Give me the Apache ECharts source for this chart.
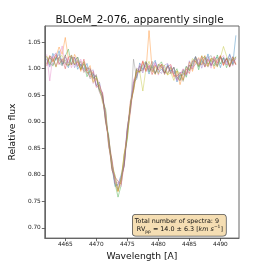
<!DOCTYPE html>
<html>
<head>
<meta charset="utf-8">
<script src="https://cdn.jsdelivr.net/npm/echarts@6/dist/echarts.min.js"></script>
<style>html,body{margin:0;padding:0;background:#fff}#c{width:266px;height:266px}</style>
</head>
<body>
<div id="c"></div>
<script>
var wavelength = [4462.0,4462.5,4463.0,4463.5,4464.0,4464.5,4465.0,4465.5,4466.0,4466.5,4467.0,4467.5,4468.0,4468.5,4469.0,4469.5,4470.0,4470.5,4471.0,4471.5,4472.0,4472.5,4473.0,4473.5,4474.0,4474.5,4475.0,4475.5,4476.0,4476.5,4477.0,4477.5,4478.0,4478.5,4479.0,4479.5,4480.0,4480.5,4481.0,4481.5,4482.0,4482.5,4483.0,4483.5,4484.0,4484.5,4485.0,4485.5,4486.0,4486.5,4487.0,4487.5,4488.0,4488.5,4489.0,4489.5,4490.0,4490.5,4491.0,4491.5,4492.0,4492.5];
var spec1 = [1.019,1.006,1.029,1.016,1.034,1.009,1.012,1.002,1.021,1.021,0.999,1.009,0.999,1.010,0.988,0.991,0.968,0.975,0.942,0.923,0.856,0.821,0.778,0.782,0.800,0.824,0.887,0.927,0.975,0.980,1.011,0.998,1.006,0.990,1.007,1.016,0.993,0.999,0.992,1.008,0.995,1.002,0.975,0.988,0.988,1.005,0.996,1.013,1.023,1.003,1.014,1.009,1.028,1.005,1.018,1.022,1.002,1.021,1.012,1.028,1.009,1.063];
var spec2 = [1.009,1.025,1.013,1.023,1.041,1.027,1.059,1.019,1.007,1.027,1.016,0.995,1.012,0.996,1.006,0.976,0.982,0.961,0.954,0.898,0.869,0.828,0.785,0.768,0.792,0.840,0.875,0.918,0.972,0.998,0.994,1.013,0.995,1.072,0.998,0.989,1.009,1.003,0.994,0.989,1.002,0.984,0.996,0.970,0.992,0.989,1.013,0.995,1.013,1.021,1.008,1.025,1.006,1.019,1.000,1.017,1.024,1.007,1.019,1.005,1.022,1.009];
var spec3 = [1.023,1.011,1.005,1.021,1.018,1.006,1.024,1.037,1.008,1.015,1.022,0.999,1.009,0.985,0.999,0.983,0.986,0.959,0.949,0.902,0.874,0.813,0.785,0.758,0.780,0.838,0.866,0.933,0.965,0.999,0.993,1.007,1.014,0.994,1.004,0.991,1.006,1.013,0.997,0.991,1.004,0.990,1.000,0.979,0.997,0.984,1.007,1.006,1.019,0.998,1.019,1.023,1.009,1.016,1.005,1.026,1.009,1.021,1.002,1.020,1.007,1.023];
var spec4 = [1.005,1.021,1.014,1.027,1.008,1.019,1.000,1.022,1.024,1.007,1.013,0.998,1.018,0.995,0.984,0.995,0.965,0.970,0.953,0.906,0.865,0.809,0.796,0.788,0.782,0.820,0.883,0.939,0.959,0.993,0.995,1.015,0.996,1.006,0.989,1.007,0.998,1.009,0.991,1.004,1.008,0.987,0.986,0.993,0.979,1.000,0.991,1.015,1.014,1.006,1.024,1.003,1.018,1.006,1.023,1.011,1.025,1.006,1.020,1.004,1.018,1.007];
var spec5 = [1.018,1.003,1.023,1.030,1.011,1.006,1.022,1.011,1.026,1.002,1.016,1.004,1.013,0.991,0.994,0.998,0.969,0.961,0.956,0.903,0.867,0.826,0.783,0.780,0.796,0.816,0.881,0.922,0.976,0.986,1.006,0.992,1.012,1.007,0.995,1.013,0.997,0.991,1.007,1.010,0.991,0.996,0.978,0.993,0.993,0.987,1.015,1.003,1.008,1.019,1.001,1.018,1.023,1.007,1.016,1.004,1.021,1.018,1.007,1.026,1.011,1.019];
var spec6 = [1.008,1.024,1.020,1.004,1.022,1.012,1.026,1.007,1.010,1.022,1.004,1.014,0.993,1.001,1.001,0.980,0.989,0.956,0.943,0.918,0.854,0.830,0.793,0.770,0.794,0.818,0.884,0.930,0.960,1.001,0.997,0.996,1.012,0.998,1.014,0.992,1.003,1.007,0.989,1.005,0.991,1.003,0.985,0.977,0.999,0.990,1.007,0.999,1.023,1.010,1.007,1.021,1.003,1.019,1.017,1.006,1.023,1.010,1.019,1.003,1.023,1.008];
var spec7 = [1.027,0.977,1.024,1.005,1.019,1.043,1.007,1.020,1.002,1.021,1.006,1.018,0.998,0.996,1.000,0.972,0.981,0.975,0.938,0.915,0.852,0.824,0.786,0.785,0.778,0.832,0.888,0.922,0.980,0.987,1.008,1.009,0.994,1.006,0.997,1.011,0.988,1.006,1.003,0.993,1.006,0.989,0.978,0.990,1.000,0.989,1.006,1.000,1.018,1.009,1.023,1.004,1.019,1.001,1.022,1.010,1.019,1.025,1.007,1.018,1.005,1.021];
var spec8 = [1.012,1.022,1.007,1.020,1.027,1.009,1.017,1.005,1.022,1.007,1.022,1.005,0.996,1.004,0.981,0.989,0.986,0.959,0.948,0.900,0.870,0.813,0.800,0.773,0.792,0.819,0.890,0.923,1.018,0.982,1.005,0.999,1.012,0.995,1.007,0.990,1.008,1.003,0.992,1.006,0.995,1.003,0.981,0.989,0.976,1.003,0.998,1.010,1.022,1.005,1.017,1.004,1.020,1.025,1.010,1.006,1.022,1.011,1.021,1.005,1.019,1.021];
var spec9 = [1.024,1.008,1.019,1.003,1.022,1.025,1.010,1.006,1.026,1.009,1.015,0.999,1.014,0.992,0.995,0.974,0.984,0.969,0.936,0.924,0.857,0.820,0.799,0.769,0.790,0.839,0.870,0.934,0.958,0.995,0.994,0.958,1.000,1.014,0.994,1.005,0.990,1.007,1.006,0.988,0.993,0.978,0.996,0.991,0.978,1.004,0.997,1.019,1.014,1.004,1.025,1.008,1.005,1.020,1.018,1.003,1.021,1.042,1.024,1.008,1.017,1.022];
var xTicks = [4465, 4470, 4475, 4480, 4485, 4490];
var yTicks = [0.70, 0.75, 0.80, 0.85, 0.90, 0.95, 1.00, 1.05];
var colors = ['#1f77b4','#ff7f0e','#2ca02c','#d62728','#9467bd','#8c564b','#e377c2','#7f7f7f','#bcbd22'];
var allSpectra = [spec1,spec2,spec3,spec4,spec5,spec6,spec7,spec8,spec9];

var FONT = 'DejaVu Sans';
var chart = echarts.init(document.getElementById('c'), null, {renderer: 'canvas'});
var series = allSpectra.map(function (s, i) {
  return {
    type: 'line',
    data: wavelength.map(function (w, j) { return [w, s[j]]; }),
    showSymbol: false,
    symbol: 'none',
    lineStyle: {color: colors[i], width: 0.8, opacity: 0.5},
    silent: true,
    z: 2 + i
  };
});

chart.setOption({
  animation: false,
  backgroundColor: '#fff',
  grid: {left: 40, right: 27, top: 26, bottom: 27, show: true, borderColor: '#666', borderWidth: 1, backgroundColor: 'transparent'},
  xAxis: {
    type: 'value', min: 4461.7, max: 4493,
    name: 'Wavelength [A]', nameLocation: 'middle', nameGap: 11,
    nameTextStyle: {fontFamily: FONT, fontSize: 9.2, color: '#111'},
    axisLine: {show: true, lineStyle: {color: '#666', width: 1}},
    axisTick: {show: true, length: 3, inside: false, lineStyle: {color: '#444', width: 0.8}, customValues: xTicks},
    axisLabel: {fontFamily: FONT, fontSize: 5.8, color: '#222', margin: 3, customValues: xTicks, formatter: function (v) { return String(Math.round(v)); }},
    splitLine: {show: false}
  },
  yAxis: {
    type: 'value', min: 0.6807, max: 1.0806,
    name: 'Relative flux', nameLocation: 'middle', nameGap: 21, nameRotate: 90,
    nameTextStyle: {fontFamily: FONT, fontSize: 9.2, color: '#111'},
    axisLine: {show: true, lineStyle: {color: '#666', width: 1}},
    axisTick: {show: true, length: 3, inside: false, lineStyle: {color: '#444', width: 0.8}, customValues: yTicks},
    axisLabel: {fontFamily: FONT, fontSize: 5.8, color: '#222', margin: 4, customValues: yTicks, formatter: function (v) { return v.toFixed(2); }},
    splitLine: {show: false}
  },
  series: series,
  graphic: [{
    type: 'text',
    x: 139.5, y: 20.5, z: 100,
    style: {
      text: 'BLOeM_2-076, apparently single',
      fill: '#111',
      font: '10.4px "DejaVu Sans"',
      align: 'center',
      verticalAlign: 'middle'
    }
  }, {
    type: 'text',
    left: 132, top: 214, z: 100,
    style: {
      text: '{a|Total number of spectra: 9}\n{a| RV}{sub|pp}{a| = 14.0 ± 6.3 [}{it|km s}{sup|−1}{a|]}',
      fill: '#111',
      font: '6.4px "DejaVu Sans"',
      backgroundColor: '#f5deb3',
      borderColor: '#555',
      borderWidth: 0.8,
      borderRadius: 3,
      padding: [2, 3, 2, 2],
      rich: {
        a: {fontFamily: FONT, fontSize: 6.4, lineHeight: 8.5, fill: '#111'},
        it: {fontFamily: FONT, fontSize: 6.4, fontStyle: 'italic', lineHeight: 8.5, fill: '#111'},
        sub: {fontFamily: FONT, fontSize: 4.4, lineHeight: 8.5, verticalAlign: 'bottom', fill: '#111'},
        sup: {fontFamily: FONT, fontSize: 4.4, lineHeight: 8.5, verticalAlign: 'top', fill: '#111'}
      }
    }
  }]
});
</script>
</body>
</html>
